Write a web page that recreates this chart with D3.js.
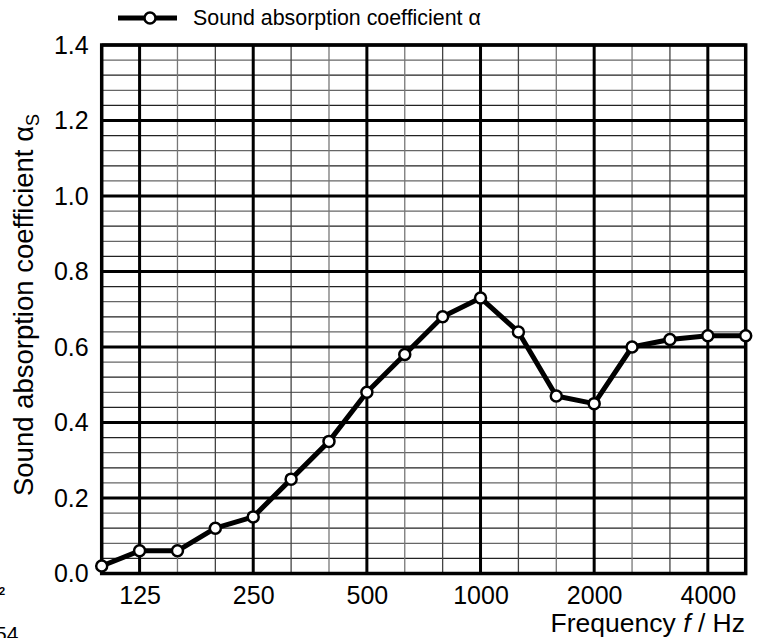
<!DOCTYPE html>
<html>
<head>
<meta charset="UTF-8">
<title>Sound absorption</title>
<script src="https://d3js.org/d3.v7.min.js"></script>
<style>
  body { margin: 0; background: #fff; }
  svg { display: block; font-family: "Liberation Sans", Arial, sans-serif; }
</style>
</head>
<body>
<svg width="758" height="638"></svg>
<script>
var freqs = [100, 125, 160, 200, 250, 315, 400, 500, 630, 800, 1000, 1250, 1600, 2000, 2500, 3150, 4000, 5000];
var alpha = [0.02, 0.06, 0.06, 0.12, 0.15, 0.25, 0.35, 0.48, 0.58, 0.68, 0.73, 0.64, 0.47, 0.45, 0.60, 0.62, 0.63, 0.63];
var xLabels = [125, 250, 500, 1000, 2000, 4000];
var yTicks = [0, 0.2, 0.4, 0.6, 0.8, 1.0, 1.2, 1.4];

var svg = d3.select("svg");
// plot box
var pL = 101.7, pR = 745.7, pT = 45, pB = 573.5;

var x = d3.scalePoint().domain(freqs).range([pL, pR]);
var y = d3.scaleLinear().domain([0, 1.4]).range([pB, pT]);

// grid - minor, every 0.04
var minorY = d3.range(0, 36).map(function(i) { return i * 0.04; });
svg.append("g").selectAll("line")
  .data(minorY)
  .enter().append("line")
  .attr("x1", pL).attr("x2", pR)
  .attr("y1", function(d) { return y(d); }).attr("y2", function(d) { return y(d); })
  .attr("stroke", function(d, i) { return i % 2 ? "#222" : "#666"; })
  .attr("stroke-width", 1.3);

svg.append("g").selectAll("line")
  .data(freqs)
  .enter().append("line")
  .attr("y1", pT).attr("y2", pB)
  .attr("x1", function(d) { return x(d); }).attr("x2", function(d) { return x(d); })
  .attr("stroke", function(d, i) { return i % 2 ? "#444" : "#777"; })
  .attr("stroke-width", 1.3);

// grid - major
svg.append("g").selectAll("line")
  .data(yTicks)
  .enter().append("line")
  .attr("x1", pL).attr("x2", pR)
  .attr("y1", function(d) { return y(d); }).attr("y2", function(d) { return y(d); })
  .attr("stroke", "#000").attr("stroke-width", 3);

svg.append("g").selectAll("line")
  .data(xLabels)
  .enter().append("line")
  .attr("y1", pT).attr("y2", pB)
  .attr("x1", function(d) { return x(d); }).attr("x2", function(d) { return x(d); })
  .attr("stroke", "#000").attr("stroke-width", 3);

svg.append("rect")
  .attr("x", pL).attr("y", pT)
  .attr("width", pR - pL).attr("height", pB - pT)
  .attr("fill", "none").attr("stroke", "#000").attr("stroke-width", 3.5);

// axes (labels only)
var yAxis = d3.axisLeft(y).tickValues(yTicks).tickFormat(d3.format(".1f")).tickSize(0).tickPadding(13);
var gy = svg.append("g").attr("transform", "translate(" + pL + ",0)").call(yAxis);
gy.select(".domain").remove();
gy.selectAll("text").attr("font-size", "25px").attr("font-family", "Liberation Sans, Arial, sans-serif").attr("fill", "#000");

var xAxis = d3.axisBottom(x).tickValues(xLabels).tickSize(0).tickPadding(13);
var gx = svg.append("g").attr("transform", "translate(0," + pB + ")").call(xAxis);
gx.select(".domain").remove();
gx.selectAll("text").attr("font-size", "25px").attr("font-family", "Liberation Sans, Arial, sans-serif").attr("fill", "#000");

// data line
var line = d3.line()
  .x(function(d, i) { return x(freqs[i]); })
  .y(function(d) { return y(d); });

svg.append("path")
  .datum(alpha)
  .attr("d", line)
  .attr("fill", "none")
  .attr("stroke", "#000")
  .attr("stroke-width", 5)
  .attr("stroke-linejoin", "round");

svg.append("g").selectAll("circle")
  .data(alpha)
  .enter().append("circle")
  .attr("cx", function(d, i) { return x(freqs[i]); })
  .attr("cy", function(d) { return y(d); })
  .attr("r", 5.5)
  .attr("fill", "#fff")
  .attr("stroke", "#000")
  .attr("stroke-width", 2.5);

// legend
var lg = svg.append("g");
lg.append("line").attr("x1", 118).attr("x2", 177).attr("y1", 18).attr("y2", 18)
  .attr("stroke", "#000").attr("stroke-width", 5);
lg.append("circle").attr("cx", 150).attr("cy", 18).attr("r", 5.5)
  .attr("fill", "#fff").attr("stroke", "#000").attr("stroke-width", 2.5);
lg.append("text").attr("x", 193).attr("y", 25).attr("font-size", "21.4px")
  .text("Sound absorption coefficient α");

// axis titles
var yt = svg.append("text")
  .attr("transform", "translate(33,305) rotate(-90)")
  .attr("text-anchor", "middle")
  .attr("font-size", "27.5px");
yt.append("tspan").text("Sound absorption coefficient α");
yt.append("tspan").attr("font-size", "18px").attr("dy", 6).text("S");

var xt = svg.append("text")
  .attr("x", 745).attr("y", 632)
  .attr("text-anchor", "end")
  .attr("font-size", "26.5px");
xt.append("tspan").text("Frequency ");
xt.append("tspan").attr("font-style", "italic").text("f");
xt.append("tspan").text(" / Hz");

// cropped fragments at the left edge
svg.append("text").attr("x", -1).attr("y", 595).attr("font-size", "11px").attr("font-weight", "bold").text("2");
svg.append("text").attr("x", -5).attr("y", 641).attr("font-size", "21px").text("54");
</script>
</body>
</html>
